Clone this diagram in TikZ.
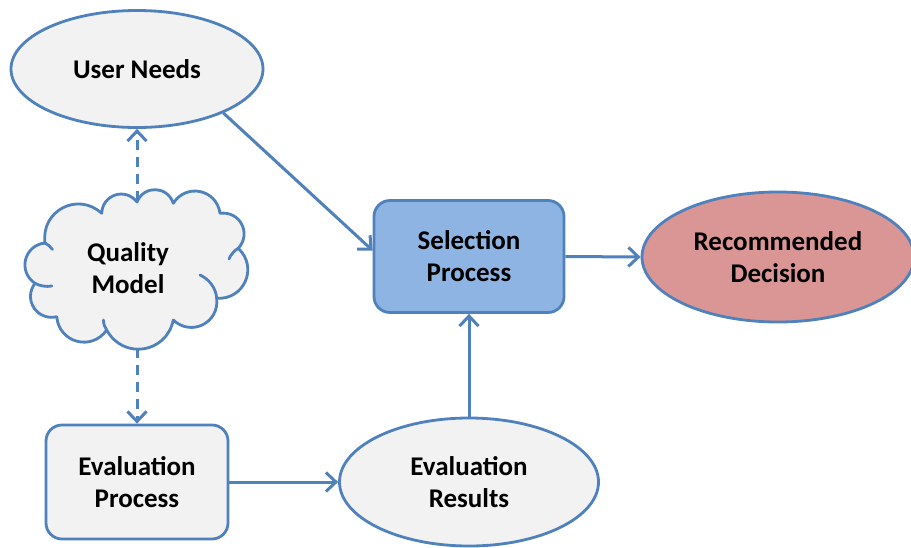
\documentclass[tikz,border=0pt]{standalone}
\usepackage{fontspec}
\setmainfont{Carlito}
\usetikzlibrary{shapes.geometric,arrows.meta}
\definecolor{edgeblue}{RGB}{79,129,189}
\definecolor{paper}{RGB}{242,242,242}
\definecolor{selfill}{RGB}{142,180,227}
\definecolor{decfill}{RGB}{217,150,148}
\tikzset{
  label text/.style={font=\fontsize{27}{32}\selectfont\bfseries, align=center, text=black},
  base/.style={label text, draw=edgeblue, line width=2.8pt, fill=paper, inner sep=0pt},
  oval/.style={base, ellipse},
  roundbox/.style={base, rectangle, rounded corners=16pt},
  puff/.style={bend left=70, looseness=1.3},
  cloudline/.style={draw=edgeblue, line width=2.8pt, line join=round},
  fold/.style={draw=edgeblue, line width=2.8pt, line cap=round},
  flow/.style={draw=edgeblue, line width=3pt, -{Straight Barb[length=10pt,width=19pt,line width=3pt]}},
  hint/.style={flow, dash pattern=on 10pt off 7pt},
}
\begin{document}
\begin{tikzpicture}[x=1pt,y=-1pt]
\useasboundingbox (0,0) rectangle (911,547);
\fill[white] (0,0) rectangle (911,547);

% cloud outline: one arc per puff, clockwise from the left
\path[cloudline, fill=paper]
  (45,243) to[puff] (101.7,213.3) to[puff] (137,202) to[puff] (173.3,203.3)
  to[puff] (220,213.3) to[puff] (238.3,248.3) to[puff] (216.7,298.3)
  to[puff] (173.3,320) to[puff] (106.7,330) to[puff] (56.7,316.7)
  to[puff] (35,283.3) to[puff] cycle;
% inner folds of the cloud
\draw[fold] (238.3,248.3) .. controls (235,250) and (231,254) .. (229,259);
\draw[fold] (216.7,298.3) .. controls (216,288) and (209,279) .. (200,275);
\draw[fold] (106.7,330) .. controls (104.5,327) and (103.5,324) .. (103.5,320);
\draw[fold] (35,283.3) .. controls (40,286) and (46,287) .. (52,286);
\draw[fold] (45,243) .. controls (48,244.5) and (50.5,246.5) .. (52.5,249.5);
\node[label text] (qm) at (128,268) {Quality\\Model};
\coordinate (qmtop) at (137,201);
\coordinate (qmbot) at (137,348);

\node[oval, minimum width=252pt, minimum height=117pt] (un) at (137,69) {User Needs};
\node[roundbox, minimum width=182pt, minimum height=114pt] (ep) at (137,482) {Evaluation\\Process};
\node[oval, minimum width=259pt, minimum height=128pt] (er) at (469,482) {Evaluation\\Results};
\node[roundbox, fill=selfill, minimum width=190pt, minimum height=112pt] (sel) at (469,256.5) {Selection\\Process};
\node[oval, fill=decfill, minimum width=272pt, minimum height=130pt] (rd) at (778,257) {Recommended\\Decision};

\draw[flow] (un.-27) -- ([yshift=6pt]sel.west);
\draw[hint] (qmtop) -- (un.south);
\draw[hint] (qmbot) -- (ep.north);
\draw[flow] (ep.east) -- (er.west);
\draw[flow] (er.north) -- (sel.south);
\draw[flow] (sel.east) -- (rd.west);
\end{tikzpicture}
\end{document}
